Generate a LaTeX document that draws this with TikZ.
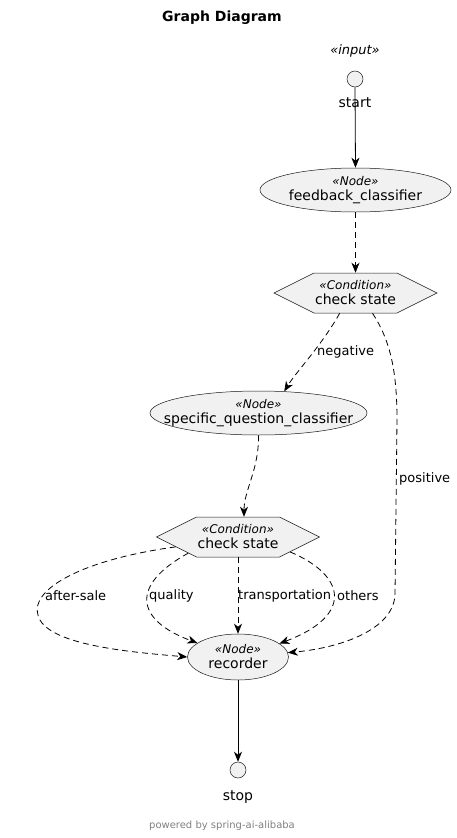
\documentclass[tikz,border=0pt]{standalone}
\usepackage{fontspec}
\setmainfont{DejaVu Sans}
\usetikzlibrary{shapes.geometric,shapes.symbols,arrows.meta}
\definecolor{umlfill}{HTML}{F1F1F1}
\definecolor{umlline}{HTML}{181818}
\newcommand{\stereo}[1]{{\fontsize{12}{12}\selectfont\itshape «#1»}}

\begin{document}
\begin{tikzpicture}[x=1pt,y=1pt,yscale=-1,
  usecase/.style={ellipse,draw=umlline,fill=umlfill,line width=0.5pt,inner sep=0pt,minimum height=44pt},
  cond/.style={signal,signal to=west and east,signal pointer angle=53.13,draw=umlline,fill=umlfill,line width=0.5pt,minimum width=163pt,minimum height=40pt,inner sep=0pt},
  endpt/.style={circle,draw=umlline,fill=umlfill,line width=0.5pt,minimum size=16pt,inner sep=0pt},
  intxt/.style={inner sep=0pt,align=center,font=\fontsize{14}{15}\selectfont},
  lbl/.style={font=\fontsize{13}{15}\selectfont,inner sep=1pt},
  flow/.style={-{Stealth[length=10pt,width=8pt,inset=3pt]},line width=0.8pt},
  cflow/.style={flow,dash pattern=on 6pt off 4pt}]
\useasboundingbox (0,0) rectangle (456,838);
% Text Node
\node[font=\fontsize{14}{16}\selectfont\bfseries] (title) at (222,18) {Graph Diagram};
%Shape: Circle [start]
\node[endpt,label={[lbl,font=\fontsize{14}{16}\selectfont,label distance=9pt]below:start},label={[lbl,font=\fontsize{13}{15}\selectfont\itshape,label distance=12pt]above:«input»}] (start) at (355,79) {};
%Shape: Ellipse [feedback_classifier]
\node[usecase,minimum width=191pt,label={[intxt]center:{\stereo{Node}\\feedback\_classifier}}] (fb) at (355.5,190) {};
%Shape: Hexagon [check state]
\node[cond,label={[intxt]center:{\stereo{Condition}\\check state}}] (hexA) at (355.5,293) {};
%Shape: Ellipse [specific_question_classifier]
\node[usecase,minimum width=217pt,label={[intxt]center:{\stereo{Node}\\specific\_question\_classifier}}] (sqc) at (258.5,413) {};
%Shape: Hexagon [check state]
\node[cond,label={[intxt]center:{\stereo{Condition}\\check state}}] (hexB) at (238,537) {};
%Shape: Ellipse [recorder]
\node[usecase,minimum width=101pt,minimum height=46pt,label={[intxt]center:{\stereo{Node}\\recorder}}] (rec) at (238,657) {};
%Shape: Circle [stop]
\node[endpt,label={[lbl,font=\fontsize{14}{16}\selectfont,label distance=11pt]below:stop}] (stop) at (238,770) {};

%Straight Lines
\draw[flow] (start.south) -- (fb.north);
\draw[cflow] (fb.south) -- (hexA.north);
%Curve Lines
\draw[cflow] (hexA.-128) .. controls (322,345) and (296,372) .. (sqc.40);
\draw[cflow] (hexA.-50) .. controls (390,340) and (397,370) .. (397,420) -- (395,595) .. controls (393,630) and (340,648) .. (rec.5);
\draw[cflow] (sqc.south) .. controls (259,470) and (244,490) .. ([xshift=6pt]hexB.north);
\draw[cflow] (hexB.189) .. controls (80,560) and (30,590) .. (38,615) .. controls (45,645) and (130,652) .. (rec.west);
\draw[cflow] (hexB.198) .. controls (130,585) and (135,620) .. (rec.161);
\draw[cflow] (hexB.south) -- (rec.north);
\draw[cflow] (hexB.-16) .. controls (345,575) and (355,615) .. (rec.18);
\draw[flow] (rec.south) -- (stop.north);
% Text Node
\node[lbl,anchor=west] (lneg) at (316,352) {negative};
\node[lbl,anchor=west] (lpos) at (398,479) {positive};
\node[lbl,anchor=west] (lafter) at (44,596) {after-sale};
\node[lbl,anchor=west] (lqual) at (148,596) {quality};
\node[lbl,anchor=west] (ltrans) at (237,596) {transportation};
\node[lbl,anchor=west] (loth) at (336,596) {others};
% Text Node
\node[font=\fontsize{10}{12}\selectfont,text=gray] (footer) at (222,826) {powered by spring-ai-alibaba};
\end{tikzpicture}
\end{document}
